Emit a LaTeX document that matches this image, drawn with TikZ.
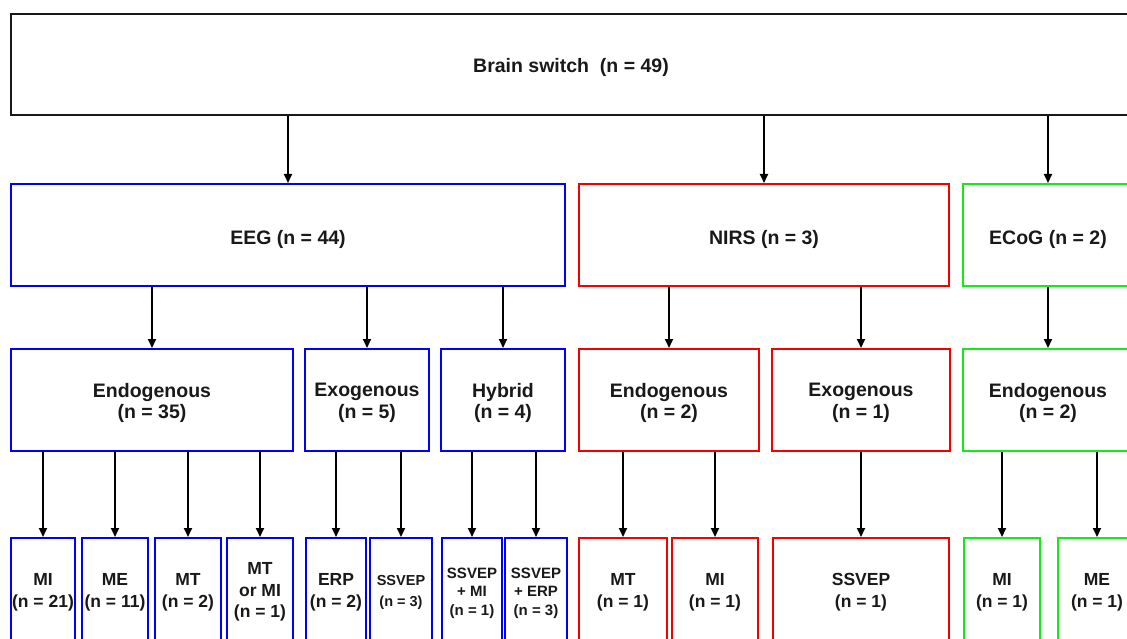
\documentclass[tikz,border=0pt]{standalone}
\usepackage{fontspec}
\setmainfont{Liberation Sans}
\usetikzlibrary{arrows.meta}
\definecolor{bblue}{RGB}{0,0,245}
\definecolor{rred}{RGB}{245,0,0}
\definecolor{ggreen}{RGB}{20,235,20}
\definecolor{ink}{RGB}{25,25,25}
\tikzset{
  box/.style={draw, line width=2pt, inner sep=0pt},
  lb/.style={align=center, inner sep=0pt, text=ink},
  fbig/.style={font=\bfseries\fontsize{19.5}{21.5}\selectfont},
  fleaf/.style={font=\bfseries\fontsize{17.5}{22}\selectfont},
  fsmall/.style={font=\bfseries\fontsize{15}{18.5}\selectfont},
  topbox/.style={box, draw=ink},
  eeg/.style={draw=bblue},
  nirs/.style={draw=rred},
  ecog/.style={draw=ggreen},
  arr/.style={draw=black, line width=1.8pt, -{Triangle[length=9pt,width=8pt]}},
}
\begin{document}
\begin{tikzpicture}[x=1pt,y=-1pt]
\useasboundingbox (0,0) rectangle (1127,639);
\clip (0,0) rectangle (1127,639);
\fill[white] (0,0) rectangle (1127,639);
% level 0
\node[topbox, minimum width=1120pt, minimum height=101pt,
  label={[lb,fbig,yshift=-3pt]center:{Brain switch\ \ (n = 49)}}] (top) at (571,64.5) {};
% level 1
\node[box, eeg, minimum width=554pt, minimum height=102pt,
  label={[lb,fbig,yshift=-4.5pt]center:{EEG (n = 44)}}] (eeg) at (288,235) {};
\node[box, nirs, minimum width=370pt, minimum height=102pt,
  label={[lb,fbig,yshift=-4.5pt]center:{NIRS\ (n = 3)}}] (nirs) at (764,235) {};
\node[box, ecog, minimum width=170pt, minimum height=102pt,
  label={[lb,fbig,yshift=-4.5pt]center:{ECoG (n = 2)}}] (ecog) at (1048,235) {};
% level 2
\node[box, eeg, minimum width=282pt, minimum height=102pt,
  label={[lb,fbig,yshift=-3pt]center:{Endogenous\\(n = 35)}}] (endoE) at (152,400) {};
\node[box, eeg, minimum width=124pt, minimum height=102pt,
  label={[lb,fbig,yshift=-3pt]center:{Exogenous\\(n = 5)}}] (exoE) at (367,400) {};
\node[box, eeg, minimum width=124pt, minimum height=102pt,
  label={[lb,fbig,yshift=-3pt]center:{Hybrid\\(n = 4)}}] (hyb) at (503,400) {};
\node[box, nirs, minimum width=180pt, minimum height=102pt,
  label={[lb,fbig,yshift=-3pt]center:{Endogenous\\(n = 2)}}] (endoN) at (669,400) {};
\node[box, nirs, minimum width=178pt, minimum height=102pt,
  label={[lb,fbig,yshift=-3pt]center:{Exogenous\\(n = 1)}}] (exoN) at (861,400) {};
\node[box, ecog, minimum width=170pt, minimum height=102pt,
  label={[lb,fbig,yshift=-3pt]center:{Endogenous\\(n = 2)}}] (endoC) at (1048,400) {};
% level 3
\node[box, eeg, minimum width=64pt, minimum height=104pt,
  label={[lb,fleaf,yshift=-2pt]center:{MI\\(n = 21)}}] (l1) at (43,590) {};
\node[box, eeg, minimum width=66pt, minimum height=104pt,
  label={[lb,fleaf,yshift=-2pt]center:{ME\\(n = 11)}}] (l2) at (115,590) {};
\node[box, eeg, minimum width=66pt, minimum height=104pt,
  label={[lb,fleaf,yshift=-2pt]center:{MT\\(n = 2)}}] (l3) at (188,590) {};
\node[box, eeg, minimum width=66pt, minimum height=104pt,
  label={[lb,font=\bfseries\fontsize{17.5}{21.5}\selectfont,yshift=-2pt]center:{MT\\or MI\\(n = 1)}}] (l4) at (260,590) {};
\node[box, eeg, minimum width=60pt, minimum height=104pt,
  label={[lb,fleaf,yshift=-2pt]center:{ERP\\(n = 2)}}] (l5) at (336,590) {};
\node[box, eeg, minimum width=62pt, minimum height=104pt,
  label={[lb,font=\bfseries\fontsize{14.5}{21}\selectfont,yshift=-2pt]center:{SSVEP\\(n = 3)}}] (l6) at (401,590) {};
\node[box, eeg, minimum width=60pt, minimum height=104pt,
  label={[lb,fsmall,yshift=-3pt]center:{SSVEP\\+ MI\\(n = 1)}}] (l7) at (472,590) {};
\node[box, eeg, minimum width=62pt, minimum height=104pt,
  label={[lb,fsmall,yshift=-3pt]center:{SSVEP\\+ ERP\\(n = 3)}}] (l8) at (536,590) {};
\node[box, nirs, minimum width=88pt, minimum height=104pt,
  label={[lb,fleaf,yshift=-2pt]center:{MT\\(n = 1)}}] (l9) at (623,590) {};
\node[box, nirs, minimum width=86pt, minimum height=104pt,
  label={[lb,fleaf,yshift=-2pt]center:{MI\\(n = 1)}}] (l10) at (715,590) {};
\node[box, nirs, minimum width=176pt, minimum height=104pt,
  label={[lb,fleaf,yshift=-2pt]center:{SSVEP\\(n = 1)}}] (l11) at (861,590) {};
\node[box, ecog, minimum width=76pt, minimum height=104pt,
  label={[lb,fleaf,yshift=-2pt]center:{MI\\(n = 1)}}] (l12) at (1002,590) {};
\node[box, ecog, minimum width=78pt, minimum height=104pt,
  label={[lb,fleaf,yshift=-2pt]center:{ME\\(n = 1)}}] (l13) at (1097,590) {};
% connectors
\foreach \p/\c in {top/eeg, top/nirs, top/ecog,
  eeg/endoE, eeg/exoE, eeg/hyb, nirs/endoN, nirs/exoN, ecog/endoC,
  endoE/l1, endoE/l2, endoE/l3, endoE/l4, exoE/l5, exoE/l6, hyb/l7, hyb/l8,
  endoN/l9, endoN/l10, exoN/l11, endoC/l12, endoC/l13}
  \draw[arr] (\c.north |- \p.south) -- (\c.north);
\end{tikzpicture}
\end{document}
